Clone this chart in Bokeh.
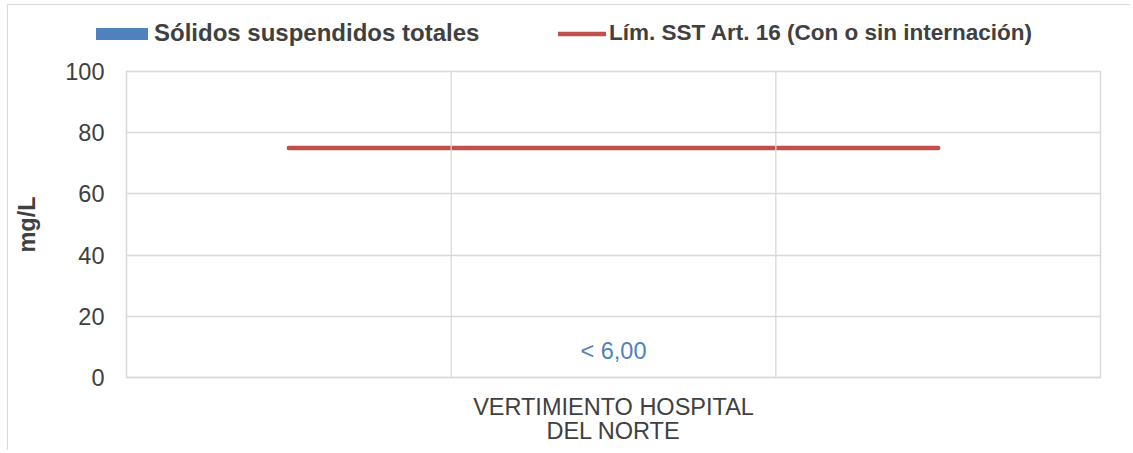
from bokeh.plotting import figure
from bokeh.layouts import column, row
from bokeh.models import (FactorRange, Range1d, SingleIntervalTicker, Span, Legend,
                          LegendItem, ColumnDataSource)
from bokeh.embed import file_html
from bokeh.resources import INLINE

# ---- data ----
categories = [" ", "VERTIMIENTO HOSPITAL\nDEL NORTE", "  "]
bar_category = ["VERTIMIENTO HOSPITAL\nDEL NORTE"]
sst_values = [0]
sst_labels = ["< 6,00"]
limit_values = [75, 75, 75]
series_names = ["Sólidos suspendidos totales", "Lím. SST Art. 16 (Con o sin internación)"]
y_axis_title = "mg/L"

FONT = "Liberation Sans"
TXT = "#404040"
GRID = "#d9d9d9"
BLUE = "#4F81BD"
RED = "#C0504D"

x_range = FactorRange(factors=categories, range_padding=0)
bar_src = ColumnDataSource(dict(x=bar_category, top=sst_values, lab=sst_labels))
line_src = ColumnDataSource(dict(x=categories, y=limit_values))

# ---- legend strip ----
lf = figure(width=1122, height=50, output_backend="svg", toolbar_location=None,
            x_range=x_range, y_range=Range1d(0, 1),
            min_border=0, x_axis_type=None, y_axis_type=None)
lf.outline_line_color = None
lf.grid.visible = False
lf_bar = lf.vbar(x="x", top="top", width=0.4, source=bar_src, fill_color=BLUE, line_color=None)
lf_line = lf.line(x="x", y="y", source=line_src, line_color=RED, line_width=4.5, line_cap="round")

common = dict(orientation="horizontal", padding=0, margin=0, border_line_alpha=0,
              background_fill_alpha=0, label_text_font=FONT,
              label_text_font_style="bold", label_text_color=TXT)
legend1 = Legend(items=[LegendItem(label=series_names[0], renderers=[lf_bar])],
                 location=(81, 8), glyph_width=65, glyph_height=15, label_standoff=0,
                 label_text_font_size="24px", **common)
legend2 = Legend(items=[LegendItem(label=series_names[1], renderers=[lf_line])],
                 location=(550, 9), glyph_width=48, glyph_height=15, label_standoff=3,
                 label_text_font_size="22.5px", **common)
lf.add_layout(legend1, "center")
lf.add_layout(legend2, "center")

# ---- main chart ----
p = figure(width=1122, height=395, output_backend="svg", toolbar_location=None,
           x_range=x_range, y_range=Range1d(0, 100),
           min_border_left=118, min_border_right=30, min_border_top=16, min_border_bottom=73)

p.outline_line_color = GRID
p.outline_line_width = 1.5
p.background_fill_color = "white"
p.border_fill_color = "white"

bars = p.vbar(x="x", top="top", width=0.4, source=bar_src, fill_color=BLUE, line_color=None)
p.text(x="x", y="top", text="lab", source=bar_src, text_align="center",
       text_baseline="alphabetic", y_offset=-27, text_color=BLUE,
       text_font={"value": FONT}, text_font_size="23.5px")

line = p.line(x="x", y="y", source=line_src, line_color=RED, line_width=4.5, line_cap="round")

for loc in [1, 2]:
    p.add_layout(Span(location=loc, dimension="height", line_color=GRID, line_width=1.3))

p.xgrid.visible = False
p.ygrid.grid_line_color = GRID
p.ygrid.grid_line_width = 1.3
p.yaxis.ticker = SingleIntervalTicker(interval=20)
p.yaxis.axis_line_color = None
p.yaxis.major_tick_line_color = None
p.yaxis.minor_tick_line_color = None
p.yaxis.major_tick_out = 0
p.yaxis.major_label_standoff = 18
p.yaxis.major_label_text_font = FONT
p.yaxis.major_label_text_font_size = "23.5px"
p.yaxis.major_label_text_color = TXT
p.yaxis.axis_label = y_axis_title
p.yaxis.axis_label_text_font = FONT
p.yaxis.axis_label_text_font_size = "23.5px"
p.yaxis.axis_label_text_font_style = "bold"
p.yaxis.axis_label_text_color = TXT
p.yaxis.axis_label_standoff = 22

p.xaxis.axis_line_color = GRID
p.xaxis.axis_line_width = 1.5
p.xaxis.major_tick_line_color = None
p.xaxis.major_tick_out = 0
p.xaxis.major_label_standoff = 16
p.xaxis.major_label_text_font = FONT
p.xaxis.major_label_text_font_size = "23.5px"
p.xaxis.major_label_text_color = TXT
p.xaxis.major_label_text_line_height = 0.95

layout = column(row(lf), p, spacing=0)
layout.styles = {"border-left": "1.5px solid #d9d9d9", "border-top": "1px solid #d9d9d9",
                 "margin-left": "7px", "margin-top": "4px"}
open("out.html", "w").write(file_html(layout, INLINE))
